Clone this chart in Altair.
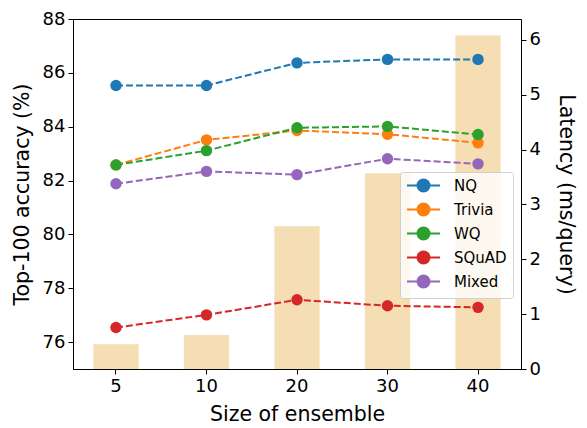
import altair as alt
import pandas as pd

sizes = ["5", "10", "20", "30", "40"]
series = ["NQ", "Trivia", "WQ", "SQuAD", "Mixed"]
colors = ["#1f77b4", "#ff7f0e", "#2ca02c", "#d62728", "#9467bd"]

nq = [85.53, 85.53, 86.37, 86.50, 86.50]
trivia = [82.58, 83.51, 83.86, 83.72, 83.40]
wq = [82.58, 83.11, 83.96, 84.01, 83.71]
squad = [76.54, 77.01, 77.57, 77.35, 77.29]
mixed = [81.88, 82.34, 82.22, 82.81, 82.62]
latency = [0.45, 0.62, 2.60, 3.57, 6.08]

acc_rows = []
for name, vals in zip(series, [nq, trivia, wq, squad, mixed]):
    for s, v in zip(sizes, vals):
        acc_rows.append({"size": s, "series": name, "acc": v})
df_acc = pd.DataFrame(acc_rows)
df_lat = pd.DataFrame({"size": sizes, "latency": latency})

FONT = "DejaVu Sans"

xenc = alt.X(
    "size:N",
    sort=sizes,
    scale=alt.Scale(paddingInner=0.5, paddingOuter=0.225),
    axis=alt.Axis(title="Size of ensemble", labelAngle=0, titlePadding=9),
)

bars = alt.Chart(df_lat).mark_bar(color="#f5deb3").encode(
    x=xenc,
    y=alt.Y(
        "latency:Q",
        scale=alt.Scale(domain=[0, 6.38], nice=False, zero=True),
        axis=alt.Axis(orient="right", values=[0, 1, 2, 3, 4, 5, 6],
                      title="Latency (ms/query)", titlePadding=15),
    ),
)

yacc = alt.Y(
    "acc:Q",
    scale=alt.Scale(domain=[75, 88], nice=False, zero=False),
    axis=alt.Axis(orient="left", values=[76, 78, 80, 82, 84, 86, 88],
                  title="Top-100 accuracy (%)", titlePadding=10),
)

sym_path = "M-2.75,0H-1M1,0H2.75M-1,0A1,1 0 1,1 1,0A1,1 0 1,1 -1,0Z"
leg = alt.Legend(
    title=None,
    orient="none",
    legendX=327,
    legendY=153,
    symbolType=sym_path,
    symbolSize=144,
    symbolStrokeWidth=2,
    symbolOffset=10,
    labelOffset=23,
    labelFontSize=15,
    labelFont=FONT,
    labelColor="black",
    padding=6,
    rowPadding=3,
    fillColor="rgba(255,255,255,0.8)",
    strokeColor="#d0d0d0",
    cornerRadius=3,
)

cscale = alt.Scale(domain=series, range=colors)

lines = alt.Chart(df_acc).mark_line(strokeDash=[7, 3], strokeWidth=2).encode(
    x=xenc,
    y=yacc,
    stroke=alt.Stroke("series:N", scale=cscale, legend=leg, sort=series),
)
points = alt.Chart(df_acc).mark_circle(size=130, opacity=1).encode(
    x=xenc,
    y=yacc,
    fill=alt.Fill("series:N", scale=cscale, legend=leg, sort=series),
)

acc_layer = alt.layer(lines, points)

chart = (
    alt.layer(bars, acc_layer)
    .resolve_scale(y="independent")
    .properties(
        width=448,
        height=350,
        autosize=alt.AutoSizeParams(type="none"),
        padding={"left": 65, "top": 11, "right": 58, "bottom": 58},
    )
    .configure_view(stroke="black", strokeWidth=1)
    .configure_axis(
        grid=False,
        domainColor="black",
        tickColor="black",
        labelColor="black",
        titleColor="black",
        labelFont=FONT,
        titleFont=FONT,
        labelFontSize=18,
        titleFontSize=20.5,
        titleFontWeight="normal",
        tickSize=5,
        labelPadding=3,
    )
)

chart.save("out.html", embed_options={"renderer": "svg", "actions": False})
